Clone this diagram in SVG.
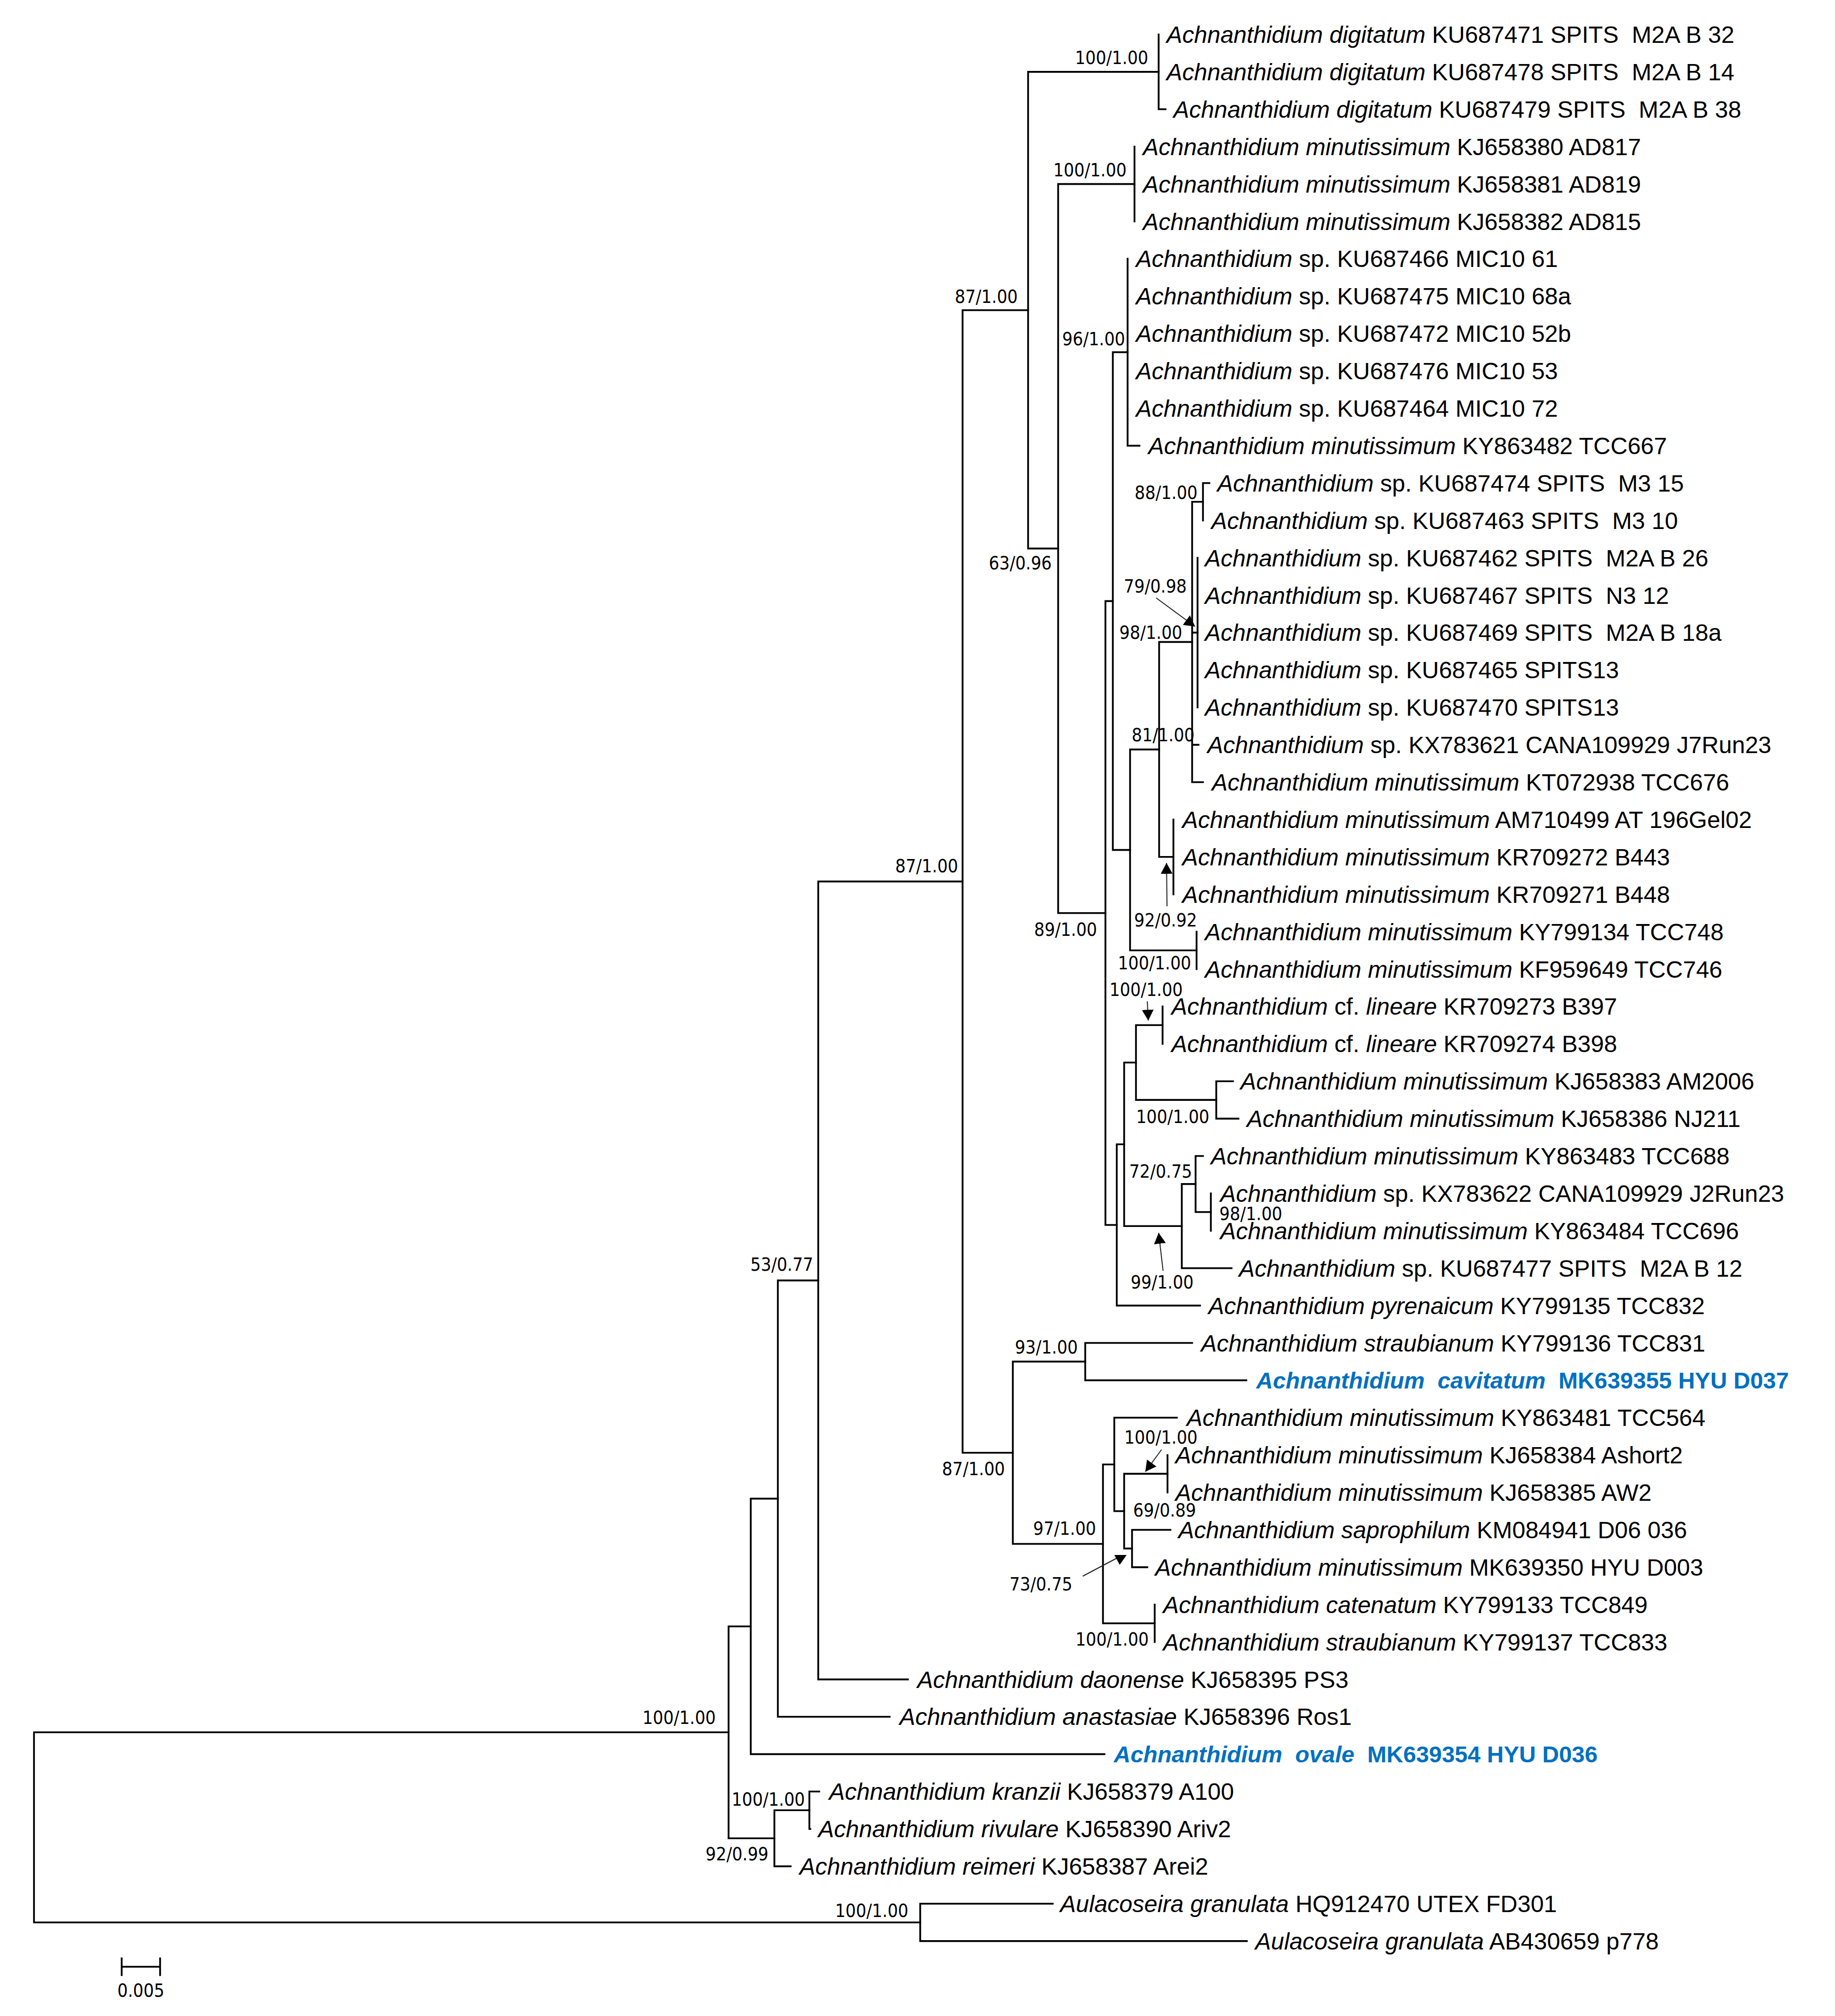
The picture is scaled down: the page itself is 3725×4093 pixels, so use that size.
<svg xmlns="http://www.w3.org/2000/svg" width="3725" height="4093" viewBox="0 0 3725 4093">
<style>
.br{fill:none;stroke:#000;stroke-width:3.6;stroke-linecap:square}
.ar{fill:none;stroke:#222;stroke-width:2}
.lf{font-family:"Liberation Sans",Arial,sans-serif;font-size:48px;fill:#000;white-space:pre}
.i{font-style:italic}
.hl{fill:#0070C0;font-weight:bold;font-size:47px}
.bs{font-family:"DejaVu Sans Condensed","DejaVu Sans",sans-serif;font-size:37px;fill:#000;text-anchor:end}
.sc{font-family:"DejaVu Sans Condensed","DejaVu Sans",sans-serif;font-size:37px;fill:#000;text-anchor:middle}
</style>
<defs>
<marker id="ah" viewBox="0 0 10 10" refX="10" refY="5" markerWidth="22" markerHeight="24" markerUnits="userSpaceOnUse" orient="auto" preserveAspectRatio="none"><path d="M0,0 L10,5 L0,10 z" fill="#000"/></marker>
</defs>
<rect width="3725" height="4093" fill="#fff"/>
<g id="connectors">
<path class="br" d="M69,3517V3903M69,3517H1479M69,3903H1868"/>
<path class="br" d="M1868,3865V3940.9M1868,3865H2137M1868,3940.9H2531"/>
<path class="br" d="M1479,3302V3732.2M1479,3302H1524M1479,3732.2H1572"/>
<path class="br" d="M1572,3675.2V3789.1M1572,3675.2H1643M1572,3789.1H1605"/>
<path class="br" d="M1643,3637.3V3713.2M1643,3637.3H1663M1643,3713.2H1645"/>
<path class="br" d="M1524,3042.6V3561.4M1524,3042.6H1579M1524,3561.4H2242"/>
<path class="br" d="M1579,2599.6V3485.5M1579,2599.6H1661M1579,3485.5H1806"/>
<path class="br" d="M1661,1789.6V3409.6M1661,1789.6H1954M1661,3409.6H1843"/>
<path class="br" d="M1954,629.8V2949.5M1954,629.8H2087M1954,2949.5H2056"/>
<path class="br" d="M2087,145.9V1113.6M2087,145.9H2352M2087,1113.6H2148"/>
<path class="br" d="M2352,70V221.8M2352,221.8H2366"/>
<path class="br" d="M2148,373.6V1853.7M2148,373.6H2303M2148,1853.7H2244"/>
<path class="br" d="M2303,297.7V449.5"/>
<path class="br" d="M2244,1220.4V2487M2244,1220.4H2259M2244,2487H2267"/>
<path class="br" d="M2259,715.1V1725.6M2259,715.1H2289M2259,1725.6H2294"/>
<path class="br" d="M2289,525.4V904.9M2289,904.9H2313"/>
<path class="br" d="M2294,1521.6V1929.5M2294,1521.6H2353M2294,1929.5H2429"/>
<path class="br" d="M2353,1303.4V1739.8M2353,1303.4H2420M2353,1739.8H2382"/>
<path class="br" d="M2420,1018.7V1588M2420,1018.7H2442M2420,1284.4H2431M2420,1512.1H2433M2420,1588H2442"/>
<path class="br" d="M2442,980.8V1056.7M2442,980.8H2455"/>
<path class="br" d="M2431,1132.6V1436.2"/>
<path class="br" d="M2382,1663.9V1815.7"/>
<path class="br" d="M2429,1891.6V1967.5"/>
<path class="br" d="M2267,2323.3V2650.6M2267,2323.3H2282M2267,2650.6H2436"/>
<path class="br" d="M2282,2157.2V2489.3M2282,2157.2H2306M2282,2489.3H2399"/>
<path class="br" d="M2306,2081.3V2233.1M2306,2081.3H2360M2306,2233.1H2469"/>
<path class="br" d="M2360,2043.4V2119.3"/>
<path class="br" d="M2469,2195.2V2271.1M2469,2195.2H2503M2469,2271.1H2514"/>
<path class="br" d="M2399,2403.9V2574.7M2399,2403.9H2427M2399,2574.7H2500"/>
<path class="br" d="M2427,2347V2460.8M2427,2347H2442M2427,2460.8H2458"/>
<path class="br" d="M2458,2422.9V2498.8"/>
<path class="br" d="M2056,2764.4V3134.5M2056,2764.4H2203M2056,3134.5H2239"/>
<path class="br" d="M2203,2726.5V2802.4M2203,2726.5H2420M2203,2802.4H2530"/>
<path class="br" d="M2239,2973.2V3295.7M2239,2973.2H2262M2239,3295.7H2344"/>
<path class="br" d="M2262,2878.3V3068M2262,2878.3H2389M2262,3068H2282"/>
<path class="br" d="M2282,2992.1V3143.9M2282,2992.1H2370M2282,3143.9H2298"/>
<path class="br" d="M2370,2954.2V3030.1"/>
<path class="br" d="M2298,3106V3181.9M2298,3106H2376M2298,3181.9H2329"/>
<path class="br" d="M2344,3257.8V3333.7"/>
</g>
<g id="arrows">
<path class="ar" d="M2347,1214L2426,1272" marker-end="url(#ah)"/>
<path class="ar" d="M2369,1840L2368,1752" marker-end="url(#ah)"/>
<path class="ar" d="M2329,2033L2331,2072" marker-end="url(#ah)"/>
<path class="ar" d="M2361,2580L2352,2503" marker-end="url(#ah)"/>
<path class="ar" d="M2358,2943L2325,2988" marker-end="url(#ah)"/>
<path class="ar" d="M2198,3200L2268,3163"/>
<polygon points="2262,3157 2287,3157 2273,3177" fill="#000"/>
</g>
<g id="scale-bar">
<path class="br" d="M247,3993H325M247,3976V4010M325,3976V4010"/>
<text class="sc" x="286" y="4054">0.005</text>
</g>
<g id="support-labels">
<g id="node-cd"><text class="bs" x="2331" y="130">100/1.00</text></g>
<g id="node-c100m"><text class="bs" x="2287" y="358">100/1.00</text></g>
<g id="node-c798"><text class="bs" x="2066" y="615">87/1.00</text></g>
<g id="node-c96"><text class="bs" x="2284" y="701">96/1.00</text></g>
<g id="node-c88"><text class="bs" x="2431" y="1013">88/1.00</text></g>
<g id="node-c63"><text class="bs" x="2135" y="1156">63/0.96</text></g>
<g id="node-c79"><text class="bs" x="2409" y="1203">79/0.98</text></g>
<g id="node-c98"><text class="bs" x="2400" y="1297">98/1.00</text></g>
<g id="node-c81"><text class="bs" x="2425" y="1505">81/1.00</text></g>
<g id="node-c749"><text class="bs" x="1945" y="1771">87/1.00</text></g>
<g id="node-c92"><text class="bs" x="2430" y="1881">92/0.92</text></g>
<g id="node-c89"><text class="bs" x="2227" y="1900">89/1.00</text></g>
<g id="node-c100k"><text class="bs" x="2418" y="1968">100/1.00</text></g>
<g id="node-cl100"><text class="bs" x="2401" y="2022">100/1.00</text></g>
<g id="node-n2469"><text class="bs" x="2455" y="2280">100/1.00</text></g>
<g id="node-n72"><text class="bs" x="2420" y="2391">72/0.75</text></g>
<g id="node-n98b"><text class="bs" x="2603" y="2477">98/1.00</text></g>
<g id="node-c637"><text class="bs" x="1651" y="2580">53/0.77</text></g>
<g id="node-n99"><text class="bs" x="2423" y="2616">99/1.00</text></g>
<g id="node-c93"><text class="bs" x="2188" y="2748">93/1.00</text></g>
<g id="node-c100c"><text class="bs" x="2431" y="2931">100/1.00</text></g>
<g id="node-cl"><text class="bs" x="2040" y="2995">87/1.00</text></g>
<g id="node-cb"><text class="bs" x="2428" y="3079">69/0.89</text></g>
<g id="node-c97"><text class="bs" x="2225" y="3116">97/1.00</text></g>
<g id="node-ca"><text class="bs" x="2177" y="3229">73/0.75</text></g>
<g id="node-c100b"><text class="bs" x="2332" y="3341">100/1.00</text></g>
<g id="node-in"><text class="bs" x="1453" y="3500">100/1.00</text></g>
<g id="node-kr2"><text class="bs" x="1634" y="3666">100/1.00</text></g>
<g id="node-krg"><text class="bs" x="1560" y="3777">92/0.99</text></g>
<g id="node-aul"><text class="bs" x="1844" y="3892">100/1.00</text></g>
</g>
<g id="leaves">
<g id="leaf-01"><text class="lf" x="2368" y="87"><tspan class="i">Achnanthidium digitatum</tspan> KU687471 SPITS  M2A B 32</text></g>
<g id="leaf-02"><text class="lf" x="2368" y="163"><tspan class="i">Achnanthidium digitatum</tspan> KU687478 SPITS  M2A B 14</text></g>
<g id="leaf-03"><text class="lf" x="2382" y="239"><tspan class="i">Achnanthidium digitatum</tspan> KU687479 SPITS  M2A B 38</text></g>
<g id="leaf-04"><text class="lf" x="2320" y="315"><tspan class="i">Achnanthidium minutissimum</tspan> KJ658380 AD817</text></g>
<g id="leaf-05"><text class="lf" x="2320" y="391"><tspan class="i">Achnanthidium minutissimum</tspan> KJ658381 AD819</text></g>
<g id="leaf-06"><text class="lf" x="2320" y="467"><tspan class="i">Achnanthidium minutissimum</tspan> KJ658382 AD815</text></g>
<g id="leaf-07"><text class="lf" x="2306" y="542"><tspan class="i">Achnanthidium</tspan> sp. KU687466 MIC10 61</text></g>
<g id="leaf-08"><text class="lf" x="2306" y="618"><tspan class="i">Achnanthidium</tspan> sp. KU687475 MIC10 68a</text></g>
<g id="leaf-09"><text class="lf" x="2306" y="694"><tspan class="i">Achnanthidium</tspan> sp. KU687472 MIC10 52b</text></g>
<g id="leaf-10"><text class="lf" x="2306" y="770"><tspan class="i">Achnanthidium</tspan> sp. KU687476 MIC10 53</text></g>
<g id="leaf-11"><text class="lf" x="2306" y="846"><tspan class="i">Achnanthidium</tspan> sp. KU687464 MIC10 72</text></g>
<g id="leaf-12"><text class="lf" x="2331" y="922"><tspan class="i">Achnanthidium minutissimum</tspan> KY863482 TCC667</text></g>
<g id="leaf-13"><text class="lf" x="2471" y="998"><tspan class="i">Achnanthidium</tspan> sp. KU687474 SPITS  M3 15</text></g>
<g id="leaf-14"><text class="lf" x="2459" y="1074"><tspan class="i">Achnanthidium</tspan> sp. KU687463 SPITS  M3 10</text></g>
<g id="leaf-15"><text class="lf" x="2446" y="1150"><tspan class="i">Achnanthidium</tspan> sp. KU687462 SPITS  M2A B 26</text></g>
<g id="leaf-16"><text class="lf" x="2446" y="1226"><tspan class="i">Achnanthidium</tspan> sp. KU687467 SPITS  N3 12</text></g>
<g id="leaf-17"><text class="lf" x="2446" y="1301"><tspan class="i">Achnanthidium</tspan> sp. KU687469 SPITS  M2A B 18a</text></g>
<g id="leaf-18"><text class="lf" x="2446" y="1377"><tspan class="i">Achnanthidium</tspan> sp. KU687465 SPITS13</text></g>
<g id="leaf-19"><text class="lf" x="2446" y="1453"><tspan class="i">Achnanthidium</tspan> sp. KU687470 SPITS13</text></g>
<g id="leaf-20"><text class="lf" x="2451" y="1529"><tspan class="i">Achnanthidium</tspan> sp. KX783621 CANA109929 J7Run23</text></g>
<g id="leaf-21"><text class="lf" x="2460" y="1605"><tspan class="i">Achnanthidium minutissimum</tspan> KT072938 TCC676</text></g>
<g id="leaf-22"><text class="lf" x="2400" y="1681"><tspan class="i">Achnanthidium minutissimum</tspan> AM710499 AT 196Gel02</text></g>
<g id="leaf-23"><text class="lf" x="2400" y="1757"><tspan class="i">Achnanthidium minutissimum</tspan> KR709272 B443</text></g>
<g id="leaf-24"><text class="lf" x="2400" y="1833"><tspan class="i">Achnanthidium minutissimum</tspan> KR709271 B448</text></g>
<g id="leaf-25"><text class="lf" x="2446" y="1909"><tspan class="i">Achnanthidium minutissimum</tspan> KY799134 TCC748</text></g>
<g id="leaf-26"><text class="lf" x="2446" y="1985"><tspan class="i">Achnanthidium minutissimum</tspan> KF959649 TCC746</text></g>
<g id="leaf-27"><text class="lf" x="2378" y="2060"><tspan class="i">Achnanthidium</tspan> cf. <tspan class="i">lineare</tspan> KR709273 B397</text></g>
<g id="leaf-28"><text class="lf" x="2378" y="2136"><tspan class="i">Achnanthidium</tspan> cf. <tspan class="i">lineare</tspan> KR709274 B398</text></g>
<g id="leaf-29"><text class="lf" x="2518" y="2212"><tspan class="i">Achnanthidium minutissimum</tspan> KJ658383 AM2006</text></g>
<g id="leaf-30"><text class="lf" x="2531" y="2288"><tspan class="i">Achnanthidium minutissimum</tspan> KJ658386 NJ211</text></g>
<g id="leaf-31"><text class="lf" x="2458" y="2364"><tspan class="i">Achnanthidium minutissimum</tspan> KY863483 TCC688</text></g>
<g id="leaf-32"><text class="lf" x="2477" y="2440"><tspan class="i">Achnanthidium</tspan> sp. KX783622 CANA109929 J2Run23</text></g>
<g id="leaf-33"><text class="lf" x="2477" y="2516"><tspan class="i">Achnanthidium minutissimum</tspan> KY863484 TCC696</text></g>
<g id="leaf-34"><text class="lf" x="2515" y="2592"><tspan class="i">Achnanthidium</tspan> sp. KU687477 SPITS  M2A B 12</text></g>
<g id="leaf-35"><text class="lf" x="2453" y="2668"><tspan class="i">Achnanthidium pyrenaicum</tspan> KY799135 TCC832</text></g>
<g id="leaf-36"><text class="lf" x="2438" y="2744"><tspan class="i">Achnanthidium straubianum</tspan> KY799136 TCC831</text></g>
<g id="leaf-37"><text class="lf hl" x="2550" y="2819"><tspan class="i">Achnanthidium  cavitatum</tspan>  MK639355 HYU D037</text></g>
<g id="leaf-38"><text class="lf" x="2409" y="2895"><tspan class="i">Achnanthidium minutissimum</tspan> KY863481 TCC564</text></g>
<g id="leaf-39"><text class="lf" x="2386" y="2971"><tspan class="i">Achnanthidium minutissimum</tspan> KJ658384 Ashort2</text></g>
<g id="leaf-40"><text class="lf" x="2386" y="3047"><tspan class="i">Achnanthidium minutissimum</tspan> KJ658385 AW2</text></g>
<g id="leaf-41"><text class="lf" x="2392" y="3123"><tspan class="i">Achnanthidium saprophilum</tspan> KM084941 D06 036</text></g>
<g id="leaf-42"><text class="lf" x="2345" y="3199"><tspan class="i">Achnanthidium minutissimum</tspan> MK639350 HYU D003</text></g>
<g id="leaf-43"><text class="lf" x="2361" y="3275"><tspan class="i">Achnanthidium catenatum</tspan> KY799133 TCC849</text></g>
<g id="leaf-44"><text class="lf" x="2361" y="3351"><tspan class="i">Achnanthidium straubianum</tspan> KY799137 TCC833</text></g>
<g id="leaf-45"><text class="lf" x="1862" y="3427"><tspan class="i">Achnanthidium daonense</tspan> KJ658395 PS3</text></g>
<g id="leaf-46"><text class="lf" x="1826" y="3502"><tspan class="i">Achnanthidium anastasiae</tspan> KJ658396 Ros1</text></g>
<g id="leaf-47"><text class="lf hl" x="2261" y="3578"><tspan class="i">Achnanthidium  ovale</tspan>  MK639354 HYU D036</text></g>
<g id="leaf-48"><text class="lf" x="1683" y="3654"><tspan class="i">Achnanthidium kranzii</tspan> KJ658379 A100</text></g>
<g id="leaf-49"><text class="lf" x="1661" y="3730"><tspan class="i">Achnanthidium rivulare</tspan> KJ658390 Ariv2</text></g>
<g id="leaf-50"><text class="lf" x="1623" y="3806"><tspan class="i">Achnanthidium reimeri</tspan> KJ658387 Arei2</text></g>
<g id="leaf-51"><text class="lf" x="2152" y="3882"><tspan class="i">Aulacoseira granulata</tspan> HQ912470 UTEX FD301</text></g>
<g id="leaf-52"><text class="lf" x="2548" y="3958"><tspan class="i">Aulacoseira granulata</tspan> AB430659 p778</text></g>
</g>
</svg>
